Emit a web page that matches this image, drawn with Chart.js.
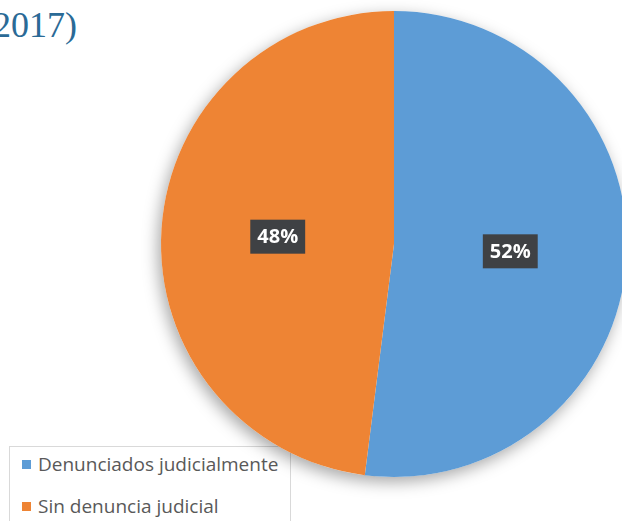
<!DOCTYPE html>
<html>
<head>
<meta charset="utf-8">
<script src="https://cdn.jsdelivr.net/npm/chart.js@4"></script>
<style>
    html, body { margin: 0; padding: 0; background: #fff; overflow: hidden; }
    #wrap { position: relative; width: 622px; height: 521px; overflow: hidden; }
    #title { position: absolute; left: -7px; top: 4px; font-family: "Liberation Serif", "DejaVu Serif", serif; font-size: 36px; color: #2a6a96; white-space: nowrap; }
    #legendBox { position: absolute; left: 9px; top: 446px; width: 280px; height: 90px; border: 1px solid #d9d9d9; background: #fff; }
    .legend-item { position: absolute; left: 12px; font-family: "Open Sans", sans-serif; font-size: 19px; color: #595959; white-space: nowrap; }
    .legend-item span { display: inline-block; width: 9px; height: 9px; margin-right: 7px; vertical-align: 2px; }
    #chart { position: absolute; left: 0; top: 0; }
</style>
</head>
<body>
<div id="wrap">
    <div id="title">2017)</div>
    <div id="legendBox"></div>
    <canvas id="chart" width="632" height="521"></canvas>
</div>
<script>
const categories = ["Denunciados judicialmente", "Sin denuncia judicial"];
const shares = [52, 48];
const sliceColors = ["#5d9cd6", "#ee8434"];

function buildLegend(boxId) {
    const box = document.getElementById(boxId);
    if (!box) return;
    categories.forEach((name, index) => {
        const item = document.createElement("div");
        item.className = "legend-item";
        item.style.top = `${4 + index * 42}px`;
        const swatch = document.createElement("span");
        swatch.style.background = sliceColors[index];
        item.appendChild(swatch);
        item.appendChild(document.createTextNode(name));
        box.appendChild(item);
    });
}

const pieShadow = {
    id: "pieShadow",
    beforeDatasetsDraw(chart) {
        const arc = chart.getDatasetMeta(0).data[0];
        if (!arc) return;
        const { x, y, outerRadius } = arc.getProps(["x", "y", "outerRadius"], true);
        const ctx = chart.ctx;
        ctx.save();
        ctx.shadowColor = "rgba(0, 0, 0, 0.35)";
        ctx.shadowBlur = 16;
        ctx.shadowOffsetX = -3;
        ctx.shadowOffsetY = 5;
        ctx.beginPath();
        ctx.arc(x, y, outerRadius, 0, Math.PI * 2);
        ctx.fillStyle = "#ffffff";
        ctx.fill();
        ctx.restore();
    }
};

const percentLabels = {
    id: "percentLabels",
    afterDatasetsDraw(chart) {
        const ctx = chart.ctx;
        const values = chart.data.datasets[0].data;
        const total = values.reduce((sum, v) => sum + v, 0);
        chart.getDatasetMeta(0).data.forEach((arc, index) => {
            const point = arc.getCenterPoint();
            const text = `${Math.round(values[index] / total * 100)}%`;
            ctx.save();
            ctx.font = "bold 20px 'Open Sans', sans-serif";
            const w = ctx.measureText(text).width + 14;
            const h = 34;
            ctx.fillStyle = "#3f4144";
            ctx.fillRect(point.x - w / 2, point.y - h / 2, w, h);
            ctx.fillStyle = "#ffffff";
            ctx.textAlign = "center";
            ctx.textBaseline = "middle";
            ctx.fillText(text, point.x, point.y + 1);
            ctx.restore();
        });
    }
};

buildLegend("legendBox");

new Chart(document.getElementById("chart"), {
    type: "pie",
    data: {
        labels: categories,
        datasets: [{
            data: shares,
            backgroundColor: sliceColors,
            borderWidth: 0
        }]
    },
    options: {
        responsive: false,
        animation: false,
        devicePixelRatio: 1,
        layout: {
            padding: { top: 11, bottom: 44, left: 161, right: 5 }
        },
        plugins: {
            legend: { display: false },
            tooltip: { enabled: false }
        }
    },
    plugins: [pieShadow, percentLabels]
});
</script>
</body>
</html>
